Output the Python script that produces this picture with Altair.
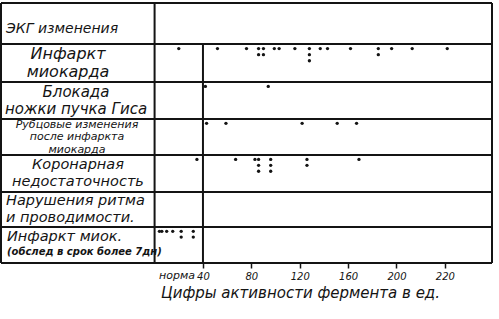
import altair as alt
import pandas as pd

# ---- data ----
row_labels = [
    "ЭКГ изменения",
    "Инфаркт\nмиокарда",
    "Блокада\nножки пучка Гиса",
    "Рубцовые изменения\nпосле инфаркта\nмиокарда",
    "Коронарная\nнедостаточность",
    "Нарушения ритма\nи проводимости.",
    "Инфаркт миок.",
]
note_label = "(обслед в срок более 7дн)"

infarct = [20, 52, 76, 86, 86, 90, 90, 99, 103, 116, 128, 128, 128, 137, 143,
           162, 185, 185, 196, 213, 242]
block = [42, 94]
scar = [43, 59, 122, 151, 167]
coronary = [35, 67, 83, 86, 86, 86, 96, 96, 96, 126, 126, 169]
rhythm = []
late_infarct = [4, 6, 10, 15, 22, 22, 32, 32]

tick_values = [40, 80, 120, 160, 200, 240]
tick_labels = ["40", "80", "120", "160", "200", "220"]
norm_value = 40
norm_label = "норма"
x_title = "Цифры активности фермента в ед."

# ---- table ----
series = [infarct, block, scar, coronary, rhythm, late_infarct]
dots = pd.DataFrame(
    [{"row": i + 1, "value": v} for i, s in enumerate(series) for v in s]
)

FONT = "DejaVu Sans"
INK = "#141414"

xscale = alt.Scale(domain=[-127, 279], nice=False, zero=False)
yscale = alt.Scale(domain=[0, 1, 2, 3, 4, 5, 6, 7],
                   range=[0, 41, 79, 116, 152, 189, 224, 260],
                   nice=False, zero=False)

label_expr = " : ".join(
    f"datum.value == {v} ? '{l}'" for v, l in zip(tick_values, tick_labels)
) + " : ''"

x_axis = alt.Axis(values=tick_values, labelExpr=label_expr,
                  domain=False, grid=False, ticks=True, tickSize=5,
                  tickWidth=1.5, tickColor=INK,
                  labelFont=FONT, labelFontStyle="italic",
                  labelFontSize=10, labelColor=INK, labelPadding=3,
                  title=x_title, titleFont=FONT,
                  titleFontStyle="italic", titleFontWeight="normal",
                  titleFontSize=15, titleColor=INK,
                  titleX=299, titleY=29, titleBaseline="middle",
                  titleAlign="center", titleAnchor="start")

layers = []

# dots (carries the x axis)
points = alt.Chart(dots).transform_window(
    stack="row_number()", groupby=["row", "value"]
).transform_calculate(
    ypos="datum.row + 0.12 + 0.16 * (datum.stack - 1)"
).mark_circle(size=11, color=INK, opacity=1).encode(
    x=alt.X("value:Q", scale=xscale, axis=x_axis),
    y=alt.Y("ypos:Q", scale=yscale, axis=None),
)
layers.append(points)

# horizontal lines
for b in range(8):
    layers.append(
        alt.Chart().mark_rule(color=INK, strokeWidth=2).encode(
            y=alt.Y(datum=b, scale=yscale, axis=None)
        )
    )

# vertical lines
for xv, y0 in [(-127, 0), (0, 0), (279, 0), (norm_value, 1)]:
    layers.append(
        alt.Chart().mark_rule(color=INK, strokeWidth=2).encode(
            x=alt.X(datum=xv, scale=xscale),
            y=alt.Y(datum=y0, scale=yscale, axis=None),
            y2=alt.Y2(datum=7),
        )
    )

# row labels
label_styles = [
    dict(x=5, align="left", size=14, lh=15, dy=5),
    dict(x=67, align="center", size=16, lh=18, dy=0),
    dict(x=75, align="center", size=15, lh=17, dy=0),
    dict(x=76, align="center", size=11, lh=12.5, dy=0),
    dict(x=77, align="center", size=14.5, lh=16.5, dy=0),
    dict(x=5, align="left", size=14.5, lh=16.5, dy=0),
    dict(x=6, align="left", size=14.5, lh=15, dy=-8),
]
for i, (lab, st) in enumerate(zip(row_labels, label_styles)):
    n = lab.count("\n") + 1
    layers.append(
        alt.Chart().mark_text(
            text=lab, lineBreak="\n", font=FONT, fontStyle="italic",
            fontSize=st["size"], lineHeight=st["lh"], align=st["align"],
            baseline="middle", dy=st["dy"] - (n - 1) * st["lh"] / 2,
            color=INK,
        ).encode(
            x=alt.value(st["x"]),
            y=alt.Y(datum=i + 0.5, scale=yscale, axis=None),
        )
    )

layers.append(
    alt.Chart().mark_text(
        text=note_label, font=FONT, fontStyle="italic", fontWeight="bold",
        fontSize=10, align="left", baseline="middle", dy=7, color=INK,
    ).encode(
        x=alt.value(6),
        y=alt.Y(datum=6.5, scale=yscale, axis=None),
    )
)

# "норма" label under axis
layers.append(
    alt.Chart().mark_text(
        text=norm_label, font=FONT, fontStyle="italic", fontSize=11,
        align="right", baseline="middle", color=INK,
    ).encode(
        x=alt.value(194),
        y=alt.value(273),
    )
)

chart = alt.layer(*layers).properties(
    width=491,
    height=260,
    autosize=alt.AutoSizeParams(type="none"),
    padding={"left": 1, "top": 3, "right": 7, "bottom": 56},
    background="white",
).configure_view(stroke=None)

chart.save("out.html", embed_options={"renderer": "svg", "actions": False})
